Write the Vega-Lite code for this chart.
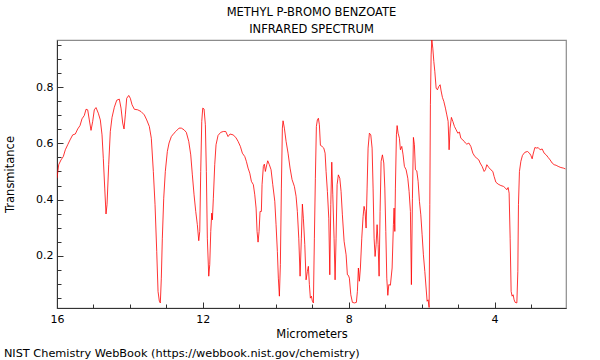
{
  "$schema": "https://vega.github.io/schema/vega-lite/v6.json",
  "padding": {"left": 3, "top": 6, "right": 5, "bottom": 2},
  "config": {
    "font": "DejaVu Sans",
    "view": {"stroke": "#8c8c8c", "strokeWidth": 1.2},
    "axis": {"grid": false, "domainColor": "#333333", "tickColor": "#333333", "labelColor": "#000000", "titleColor": "#000000", "labelFontSize": 11, "titleFontSize": 11.5, "titleFontWeight": "normal"}
  },
  "title": {"text": "NIST Chemistry WebBook (https://webbook.nist.gov/chemistry)", "orient": "bottom", "anchor": "start", "frame": "bounds", "fontSize": 11.3, "fontWeight": "normal", "color": "#000000", "offset": 8},
  "vconcat": [
    {
      "title": {"text": ["METHYL P-BROMO BENZOATE", "INFRARED SPECTRUM"], "fontSize": 11.5, "fontWeight": "normal", "lineHeight": 17, "color": "#000000", "offset": 3},
      "width": 509,
      "height": 268,
      "data": {"values": [
        {"um":16.000,"T":0.476},{"um":15.953,"T":0.524},{"um":15.890,"T":0.541},{"um":15.827,"T":0.553},{"um":15.772,"T":0.577},{"um":15.706,"T":0.595},{"um":15.643,"T":0.612},{"um":15.569,"T":0.630},{"um":15.498,"T":0.633},{"um":15.432,"T":0.651},{"um":15.369,"T":0.663},{"um":15.314,"T":0.687},{"um":15.251,"T":0.699},{"um":15.204,"T":0.721},{"um":15.158,"T":0.719},{"um":15.114,"T":0.683},{"um":15.067,"T":0.646},{"um":15.021,"T":0.678},{"um":14.977,"T":0.719},{"um":14.930,"T":0.727},{"um":14.867,"T":0.707},{"um":14.812,"T":0.683},{"um":14.765,"T":0.630},{"um":14.730,"T":0.547},{"um":14.691,"T":0.441},{"um":14.656,"T":0.349},{"um":14.628,"T":0.382},{"um":14.582,"T":0.524},{"um":14.538,"T":0.642},{"um":14.491,"T":0.692},{"um":14.428,"T":0.728},{"um":14.362,"T":0.753},{"um":14.291,"T":0.757},{"um":14.244,"T":0.725},{"um":14.198,"T":0.672},{"um":14.162,"T":0.651},{"um":14.126,"T":0.701},{"um":14.088,"T":0.760},{"um":14.033,"T":0.770},{"um":13.989,"T":0.760},{"um":13.942,"T":0.737},{"um":13.879,"T":0.721},{"um":13.786,"T":0.719},{"um":13.696,"T":0.713},{"um":13.605,"T":0.701},{"um":13.539,"T":0.683},{"um":13.468,"T":0.660},{"um":13.413,"T":0.618},{"um":13.358,"T":0.500},{"um":13.311,"T":0.382},{"um":13.265,"T":0.216},{"um":13.229,"T":0.074},{"um":13.193,"T":0.039},
        {"um":13.166,"T":0.033},{"um":13.139,"T":0.121},{"um":13.111,"T":0.263},{"um":13.073,"T":0.405},{"um":13.029,"T":0.500},{"um":12.974,"T":0.571},{"um":12.927,"T":0.601},{"um":12.864,"T":0.624},{"um":12.790,"T":0.636},{"um":12.727,"T":0.644},{"um":12.653,"T":0.654},{"um":12.590,"T":0.654},{"um":12.516,"T":0.648},{"um":12.453,"T":0.639},{"um":12.387,"T":0.607},{"um":12.332,"T":0.559},{"um":12.288,"T":0.488},{"um":12.241,"T":0.417},{"um":12.195,"T":0.358},{"um":12.151,"T":0.311},{"um":12.112,"T":0.254},{"um":12.085,"T":0.287},{"um":12.058,"T":0.500},{"um":12.030,"T":0.678},{"um":12.003,"T":0.725},{"um":11.967,"T":0.722},{"um":11.931,"T":0.666},{"um":11.904,"T":0.500},{"um":11.877,"T":0.263},{"um":11.838,"T":0.128},{"um":11.811,"T":0.169},{"um":11.783,"T":0.287},{"um":11.756,"T":0.352},{"um":11.739,"T":0.328},{"um":11.712,"T":0.405},{"um":11.674,"T":0.524},{"um":11.638,"T":0.595},{"um":11.583,"T":0.628},{"um":11.509,"T":0.639},{"um":11.438,"T":0.642},{"um":11.372,"T":0.642},{"um":11.309,"T":0.624},{"um":11.254,"T":0.633},{"um":11.171,"T":0.630},{"um":11.097,"T":0.621},{"um":11.034,"T":0.607},{"um":10.971,"T":0.589},{"um":10.916,"T":0.565},{"um":10.850,"T":0.553},{"um":10.807,"T":0.536},{"um":10.760,"T":0.512},{"um":10.713,"T":0.494},{"um":10.669,"T":0.465},{"um":10.615,"T":0.453},{"um":10.576,"T":0.417},{"um":10.540,"T":0.370},{"um":10.513,"T":0.287},{"um":10.486,"T":0.249},{"um":10.458,"T":0.287},{"um":10.431,"T":0.358},{"um":10.395,"T":0.358},
        {"um":10.376,"T":0.453},{"um":10.340,"T":0.518},{"um":10.313,"T":0.526},{"um":10.285,"T":0.500},{"um":10.247,"T":0.524},{"um":10.220,"T":0.538},{"um":10.176,"T":0.524},{"um":10.129,"T":0.506},{"um":10.082,"T":0.453},{"um":10.027,"T":0.394},{"um":9.992,"T":0.311},{"um":9.956,"T":0.216},{"um":9.929,"T":0.121},{"um":9.901,"T":0.057},{"um":9.874,"T":0.169},{"um":9.846,"T":0.441},{"um":9.819,"T":0.654},{"um":9.800,"T":0.680},{"um":9.764,"T":0.654},{"um":9.717,"T":0.607},{"um":9.663,"T":0.565},{"um":9.608,"T":0.512},{"um":9.553,"T":0.471},{"um":9.490,"T":0.447},{"um":9.443,"T":0.412},{"um":9.408,"T":0.358},{"um":9.369,"T":0.263},{"um":9.333,"T":0.128},{"um":9.298,"T":0.263},{"um":9.270,"T":0.384},{"um":9.243,"T":0.334},{"um":9.204,"T":0.240},{"um":9.169,"T":0.115},{"um":9.133,"T":0.145},{"um":9.106,"T":0.163},{"um":9.078,"T":0.098},{"um":9.051,"T":0.050},{"um":9.023,"T":0.057},{"um":8.996,"T":0.039},{"um":8.968,"T":0.033},{"um":8.941,"T":0.263},{"um":8.914,"T":0.476},{"um":8.886,"T":0.660},{"um":8.859,"T":0.683},{"um":8.831,"T":0.689},{"um":8.804,"T":0.666},{"um":8.776,"T":0.593},{"um":8.730,"T":0.589},{"um":8.683,"T":0.583},{"um":8.647,"T":0.565},{"um":8.620,"T":0.500},{"um":8.584,"T":0.429},{"um":8.546,"T":0.334},{"um":8.518,"T":0.133},{"um":8.491,"T":0.382},{"um":8.464,"T":0.533},{"um":8.436,"T":0.417},{"um":8.401,"T":0.263},{"um":8.373,"T":0.115},{"um":8.346,"T":0.263},{"um":8.318,"T":0.453},{"um":8.283,"T":0.488},{"um":8.244,"T":0.476},{"um":8.209,"T":0.429},{"um":8.173,"T":0.346},{"um":8.126,"T":0.252},{"um":8.071,"T":0.204},{"um":8.036,"T":0.133},{"um":8.008,"T":0.131},{"um":7.981,"T":0.121},{"um":7.942,"T":0.062},{"um":7.898,"T":0.035},{"um":7.844,"T":0.033},{"um":7.789,"T":0.035},{"um":7.761,"T":0.074},{"um":7.734,"T":0.157},{"um":7.707,"T":0.110},{"um":7.679,"T":0.157},{"um":7.641,"T":0.263},{"um":7.605,"T":0.340},
        {"um":7.578,"T":0.376},{"um":7.550,"T":0.358},{"um":7.523,"T":0.299},{"um":7.495,"T":0.441},{"um":7.468,"T":0.583},{"um":7.432,"T":0.636},{"um":7.394,"T":0.630},{"um":7.358,"T":0.583},{"um":7.331,"T":0.441},{"um":7.303,"T":0.263},{"um":7.276,"T":0.198},{"um":7.248,"T":0.240},{"um":7.221,"T":0.311},{"um":7.193,"T":0.240},{"um":7.166,"T":0.128},{"um":7.139,"T":0.358},{"um":7.111,"T":0.536},{"um":7.075,"T":0.559},{"um":7.037,"T":0.530},{"um":7.009,"T":0.441},{"um":6.982,"T":0.287},{"um":6.955,"T":0.121},{"um":6.927,"T":0.060},{"um":6.900,"T":0.098},{"um":6.856,"T":0.096},{"um":6.809,"T":0.157},{"um":6.774,"T":0.311},{"um":6.755,"T":0.370},{"um":6.735,"T":0.287},{"um":6.719,"T":0.441},{"um":6.691,"T":0.630},{"um":6.672,"T":0.663},{"um":6.645,"T":0.636},{"um":6.609,"T":0.618},{"um":6.582,"T":0.577},{"um":6.544,"T":0.589},{"um":6.508,"T":0.559},{"um":6.472,"T":0.518},{"um":6.425,"T":0.506},{"um":6.379,"T":0.476},{"um":6.343,"T":0.429},{"um":6.307,"T":0.358},{"um":6.280,"T":0.098},{"um":6.252,"T":0.405},{"um":6.225,"T":0.621},{"um":6.198,"T":0.595},{"um":6.170,"T":0.506},{"um":6.132,"T":0.502},{"um":6.096,"T":0.465},{"um":6.060,"T":0.394},{"um":6.022,"T":0.346},{"um":5.986,"T":0.275},{"um":5.951,"T":0.204},{"um":5.912,"T":0.145},{"um":5.877,"T":0.086},{"um":5.849,"T":0.039},{"um":5.822,"T":0.044},{"um":5.794,"T":0.017},{"um":5.775,"T":0.382},{"um":5.759,"T":0.737},{"um":5.739,"T":0.914},{"um":5.720,"T":0.967},{"um":5.693,"T":0.938},{"um":5.665,"T":0.891},{"um":5.638,"T":0.856},{"um":5.602,"T":0.796},{"um":5.567,"T":0.790},{"um":5.528,"T":0.802},{"um":5.492,"T":0.808},{"um":5.465,"T":0.786},{"um":5.429,"T":0.763},{"um":5.391,"T":0.749},{"um":5.347,"T":0.725},{"um":5.309,"T":0.701},{"um":5.273,"T":0.678},{"um":5.246,"T":0.577},{"um":5.218,"T":0.654},{"um":5.183,"T":0.692},{"um":5.144,"T":0.678},{"um":5.100,"T":0.660},{"um":5.053,"T":0.648},{"um":5.007,"T":0.636},{"um":4.963,"T":0.640},{"um":4.924,"T":0.618},{"um":4.869,"T":0.612},{"um":4.834,"T":0.607},{"um":4.798,"T":0.601},
        {"um":4.760,"T":0.597},{"um":4.705,"T":0.601},{"um":4.650,"T":0.589},{"um":4.595,"T":0.565},{"um":4.540,"T":0.553},{"um":4.485,"T":0.547},{"um":4.431,"T":0.541},{"um":4.395,"T":0.530},{"um":4.340,"T":0.518},{"um":4.285,"T":0.500},{"um":4.250,"T":0.506},{"um":4.211,"T":0.524},{"um":4.156,"T":0.514},{"um":4.101,"T":0.506},{"um":4.047,"T":0.500},{"um":4.011,"T":0.482},{"um":3.964,"T":0.462},{"um":3.901,"T":0.455},{"um":3.827,"T":0.450},{"um":3.756,"T":0.447},{"um":3.701,"T":0.441},{"um":3.663,"T":0.435},{"um":3.627,"T":0.443},{"um":3.600,"T":0.423},{"um":3.572,"T":0.263},{"um":3.545,"T":0.074},{"um":3.518,"T":0.057},{"um":3.490,"T":0.062},{"um":3.463,"T":0.044},{"um":3.435,"T":0.035},{"um":3.388,"T":0.033},{"um":3.361,"T":0.145},{"um":3.344,"T":0.382},{"um":3.317,"T":0.500},{"um":3.278,"T":0.536},{"um":3.234,"T":0.557},{"um":3.169,"T":0.568},{"um":3.097,"T":0.571},{"um":3.042,"T":0.565},{"um":3.004,"T":0.557},{"um":2.968,"T":0.545},{"um":2.941,"T":0.562},{"um":2.894,"T":0.585},{"um":2.840,"T":0.583},{"um":2.804,"T":0.585},{"um":2.749,"T":0.577},{"um":2.694,"T":0.580},{"um":2.639,"T":0.565},{"um":2.584,"T":0.559},{"um":2.530,"T":0.550},{"um":2.475,"T":0.541},{"um":2.420,"T":0.530},{"um":2.365,"T":0.524},{"um":2.310,"T":0.522},{"um":2.255,"T":0.518},{"um":2.181,"T":0.514},{"um":2.112,"T":0.512},{"um":2.055,"T":0.509}
      ]},
      "mark": {"type": "line", "color": "#ff0000", "strokeWidth": 0.8, "clip": true},
      "encoding": {
        "x": {
          "field": "um", "type": "quantitative",
          "scale": {"domain": [2.04, 16], "reverse": true, "nice": false, "zero": false},
          "axis": {
            "title": "Micrometers",
            "values": [16, 15, 14, 13, 12, 11, 10, 9, 8, 7, 6, 5, 4, 3],
            "labelExpr": "datum.value % 4 === 0 ? datum.label : ''",
            "labelFlush": false,
            "labelOverlap": false,
            "tickSize": {"condition": {"test": "datum.value % 4 === 0", "value": -6}, "value": -4},
            "labelPadding": 11,
            "titlePadding": 2
          }
        },
        "y": {
          "field": "T", "type": "quantitative",
          "scale": {"domain": [0.015, 0.967], "nice": false, "zero": false},
          "axis": {
            "title": "Transmitance",
            "values": [0.05, 0.1, 0.15, 0.2, 0.25, 0.3, 0.35, 0.4, 0.45, 0.5, 0.55, 0.6, 0.65, 0.7, 0.75, 0.8, 0.85, 0.9, 0.95],
            "labelExpr": "abs(datum.value * 5 - round(datum.value * 5)) < 0.001 ? format(datum.value, '.1f') : ''",
            "labelOverlap": false,
            "tickSize": {"condition": {"test": "abs(datum.value * 5 - round(datum.value * 5)) < 0.001", "value": -6}, "value": -4},
            "labelPadding": 10,
            "titlePadding": 20
          }
        }
      }
    }
  ]
}
